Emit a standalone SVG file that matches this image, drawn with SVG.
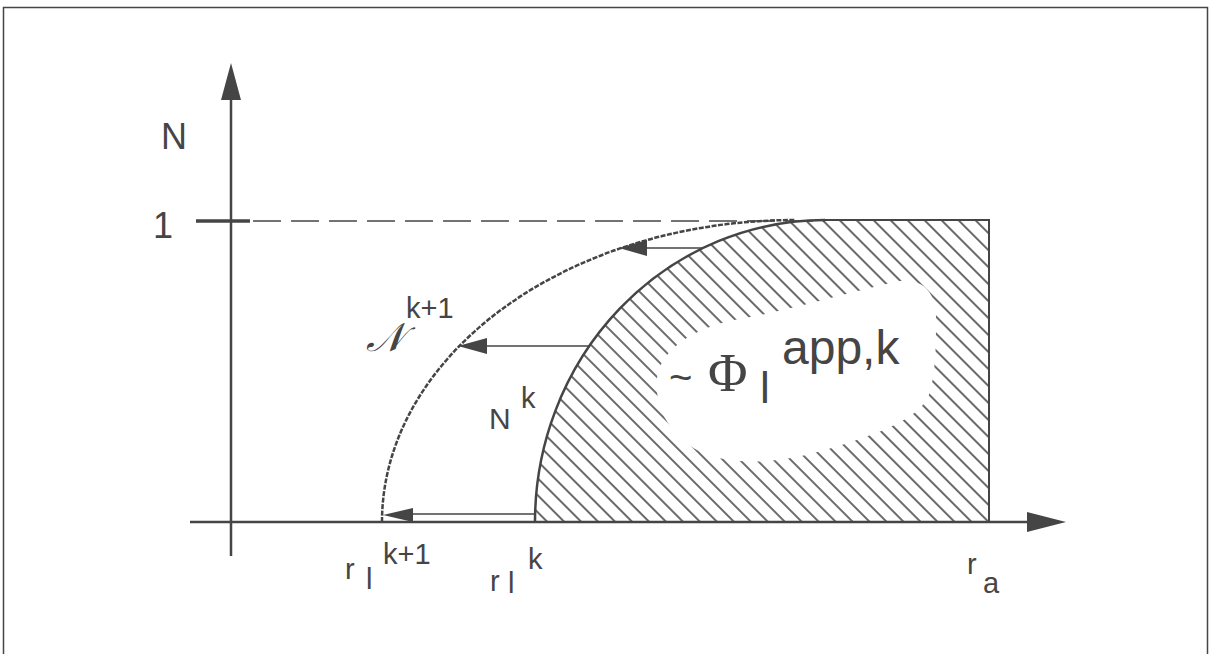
<svg xmlns="http://www.w3.org/2000/svg" width="1211" height="654" viewBox="0 0 1211 654">
<defs>
<style>
.ln{stroke:#454545;fill:none;stroke-linecap:butt}
.ah{fill:#454545;stroke:none}
.t{font-family:"Liberation Sans",Arial,sans-serif;fill:#454545}
.s{font-family:"Liberation Serif","Times New Roman",serif;fill:#454545}
</style>
<pattern id="hatch" patternUnits="userSpaceOnUse" width="12" height="12" patternTransform="rotate(-45)">
<line x1="6" y1="0" x2="6" y2="12" stroke="#454545" stroke-width="1.6"/>
</pattern>
</defs>
<rect width="1211" height="654" fill="#ffffff"/>
<g id="frame">
<path class="ln" d="M3.5,654 V7.5 H1207.5 V654" stroke-width="1.5" stroke="#777"/>
</g>
<g id="region">
<path d="M535,522 A290,302 0 0 1 825,220 L989,220 L989,522 Z" fill="url(#hatch)"/>
<path d="M658,372 C666,345 700,325 745,318 C790,310 850,292 900,281 C925,278 937,295 936,320 C936,345 936,375 928,398 C915,420 880,433 835,447 C800,458 770,463 740,461 C710,459 690,450 675,432 C662,418 653,395 658,372 Z" fill="#ffffff"/>
<path class="ln" d="M535,522 A290,302 0 0 1 825,220" stroke-width="2.5"/>
<path class="ln" d="M825,220 H989 V522" stroke-width="2"/>
</g>
<g id="axes">
<line class="ln" x1="231" y1="98" x2="231" y2="556" stroke-width="2.5"/>
<polygon class="ah" points="231,63 221,100 241,100"/>
<line class="ln" x1="190" y1="522" x2="1030" y2="522" stroke-width="2.5"/>
<polygon class="ah" points="1066,522 1027,512 1027,532"/>
<line class="ln" x1="196" y1="221" x2="250" y2="221" stroke-width="3.5"/>
<line class="ln" x1="253" y1="221" x2="825" y2="221" stroke-width="1.5" stroke-dasharray="28,10"/>
</g>
<g id="next-curve">
<path class="ln" d="M382,522 A413,302 0 0 1 795,220" stroke-width="2.5" stroke-dasharray="5,1.5"/>
</g>
<g id="connectors">
<line class="ln" x1="703" y1="248" x2="645" y2="248" stroke-width="1.5"/>
<polygon class="ah" points="619,248 647,240 647,256"/>
<line class="ln" x1="589" y1="346" x2="485" y2="346" stroke-width="1.5"/>
<polygon class="ah" points="458,346 487,338 487,354"/>
<line class="ln" x1="535" y1="514" x2="410" y2="514" stroke-width="1.5"/>
<polygon class="ah" points="383,515 413,508 413,522"/>
</g>
<g id="labels">
<text class="t" x="161" y="149" font-size="36">N</text>
<text class="t" x="153" y="238" font-size="36">1</text>
<text class="s" x="366" y="351" font-size="40" font-style="italic">𝒩</text>
<text class="t" x="406" y="318" font-size="29">k+1</text>
<text class="t" x="489" y="429" font-size="30">N</text>
<text class="t" x="521" y="408" font-size="29">k</text>
<text class="t" x="669" y="391" font-size="40">~</text>
<text class="s" x="708" y="391" font-size="54">Φ</text>
<text class="t" x="760" y="403" font-size="44">l</text>
<text class="t" x="782" y="364" font-size="48">app,k</text>
<text class="t" x="345" y="579" font-size="29">r</text>
<text class="t" x="366" y="589" font-size="29">l</text>
<text class="t" x="383" y="564" font-size="29">k+1</text>
<text class="t" x="490" y="591" font-size="29">r</text>
<text class="t" x="508" y="593" font-size="29">l</text>
<text class="t" x="528" y="569" font-size="29">k</text>
<text class="t" x="967" y="574" font-size="29">r</text>
<text class="t" x="983" y="593" font-size="29">a</text>
</g>
</svg>
